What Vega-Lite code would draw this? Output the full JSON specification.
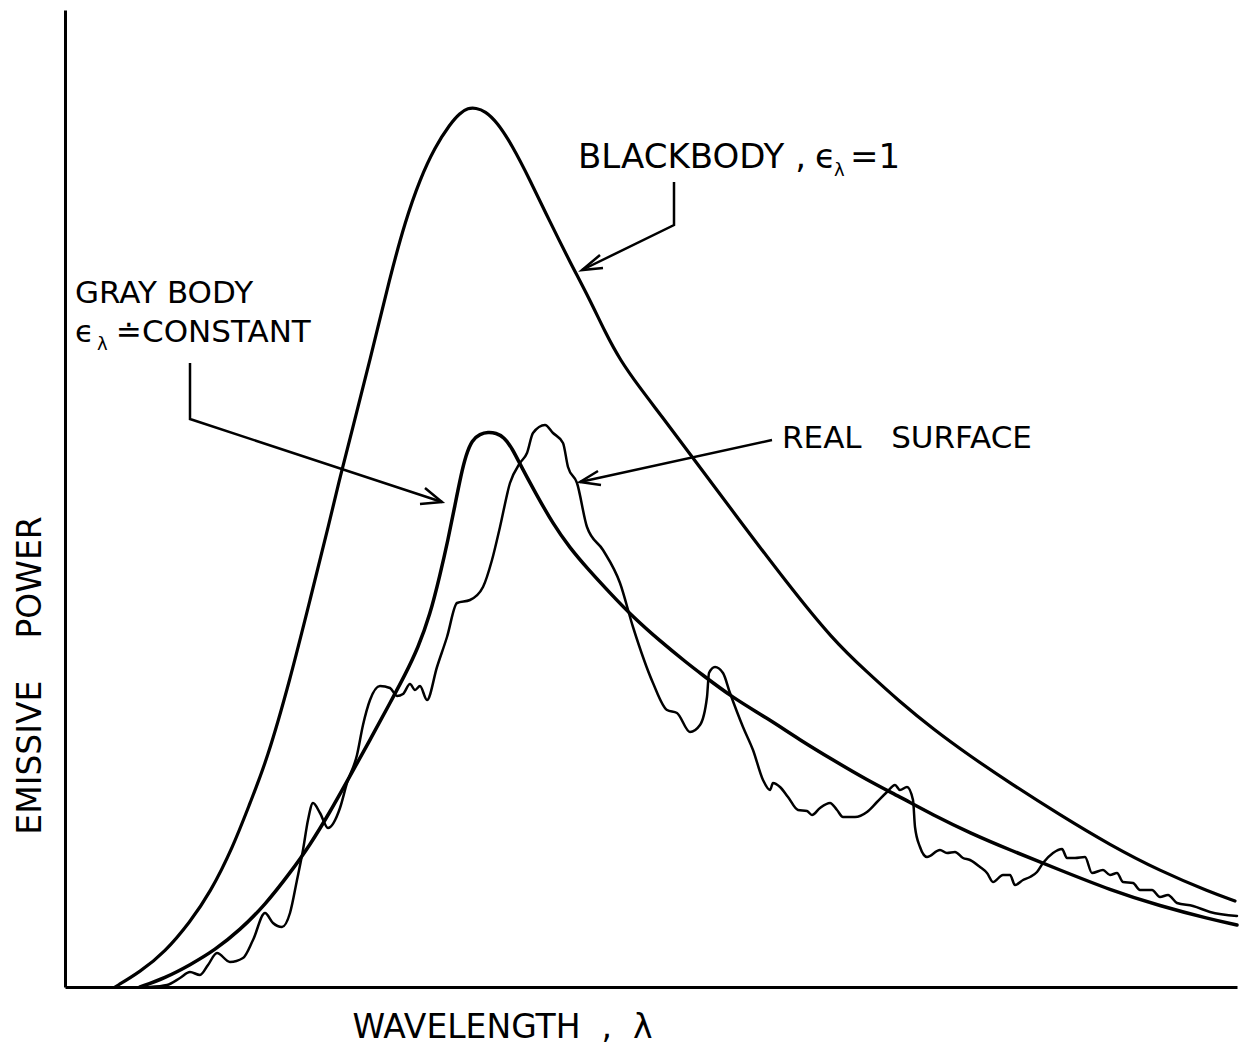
{
  "$schema": "https://vega.github.io/schema/vega-lite/v6.json",
  "width": 1172,
  "height": 977,
  "autosize": "none",
  "padding": {"left": 65, "top": 10, "right": 10, "bottom": 63},
  "background": "white",
  "config": {"view": {"stroke": null}, "font": "DejaVu Sans"},
  "datasets": {
    "smooth": [
      {"series": "Blackbody", "x": 115, "power": 0},
      {"series": "Blackbody", "x": 140, "power": 15},
      {"series": "Blackbody", "x": 165, "power": 35},
      {"series": "Blackbody", "x": 190, "power": 65},
      {"series": "Blackbody", "x": 210, "power": 94},
      {"series": "Blackbody", "x": 233, "power": 140},
      {"series": "Blackbody", "x": 250, "power": 184},
      {"series": "Blackbody", "x": 267, "power": 227},
      {"series": "Blackbody", "x": 290, "power": 307},
      {"series": "Blackbody", "x": 310, "power": 387},
      {"series": "Blackbody", "x": 330, "power": 467},
      {"series": "Blackbody", "x": 340, "power": 510},
      {"series": "Blackbody", "x": 353, "power": 560},
      {"series": "Blackbody", "x": 370, "power": 627},
      {"series": "Blackbody", "x": 390, "power": 710},
      {"series": "Blackbody", "x": 405, "power": 765},
      {"series": "Blackbody", "x": 420, "power": 808},
      {"series": "Blackbody", "x": 435, "power": 840},
      {"series": "Blackbody", "x": 450, "power": 863},
      {"series": "Blackbody", "x": 460, "power": 874},
      {"series": "Blackbody", "x": 468, "power": 879},
      {"series": "Blackbody", "x": 476, "power": 879},
      {"series": "Blackbody", "x": 485, "power": 876},
      {"series": "Blackbody", "x": 497, "power": 865},
      {"series": "Blackbody", "x": 512, "power": 842},
      {"series": "Blackbody", "x": 530, "power": 807},
      {"series": "Blackbody", "x": 550, "power": 765},
      {"series": "Blackbody", "x": 570, "power": 725},
      {"series": "Blackbody", "x": 590, "power": 687},
      {"series": "Blackbody", "x": 605, "power": 655},
      {"series": "Blackbody", "x": 620, "power": 627},
      {"series": "Blackbody", "x": 640, "power": 599},
      {"series": "Blackbody", "x": 660, "power": 573},
      {"series": "Blackbody", "x": 693, "power": 529},
      {"series": "Blackbody", "x": 737, "power": 470},
      {"series": "Blackbody", "x": 787, "power": 404},
      {"series": "Blackbody", "x": 833, "power": 347},
      {"series": "Blackbody", "x": 867, "power": 315},
      {"series": "Blackbody", "x": 900, "power": 285},
      {"series": "Blackbody", "x": 933, "power": 258},
      {"series": "Blackbody", "x": 970, "power": 231},
      {"series": "Blackbody", "x": 1010, "power": 204},
      {"series": "Blackbody", "x": 1060, "power": 172},
      {"series": "Blackbody", "x": 1110, "power": 142},
      {"series": "Blackbody", "x": 1160, "power": 116},
      {"series": "Blackbody", "x": 1210, "power": 95},
      {"series": "Blackbody", "x": 1235, "power": 86},
      {"series": "Gray body", "x": 140, "power": 0},
      {"series": "Gray body", "x": 165, "power": 9},
      {"series": "Gray body", "x": 190, "power": 22},
      {"series": "Gray body", "x": 215, "power": 37},
      {"series": "Gray body", "x": 240, "power": 57},
      {"series": "Gray body", "x": 265, "power": 82},
      {"series": "Gray body", "x": 290, "power": 114},
      {"series": "Gray body", "x": 310, "power": 142},
      {"series": "Gray body", "x": 330, "power": 175},
      {"series": "Gray body", "x": 350, "power": 211},
      {"series": "Gray body", "x": 370, "power": 247},
      {"series": "Gray body", "x": 390, "power": 284},
      {"series": "Gray body", "x": 405, "power": 312},
      {"series": "Gray body", "x": 418, "power": 339},
      {"series": "Gray body", "x": 430, "power": 372},
      {"series": "Gray body", "x": 440, "power": 412},
      {"series": "Gray body", "x": 448, "power": 447},
      {"series": "Gray body", "x": 455, "power": 482},
      {"series": "Gray body", "x": 461, "power": 512},
      {"series": "Gray body", "x": 466, "power": 532},
      {"series": "Gray body", "x": 472, "power": 547},
      {"series": "Gray body", "x": 480, "power": 553},
      {"series": "Gray body", "x": 488, "power": 555},
      {"series": "Gray body", "x": 496, "power": 554},
      {"series": "Gray body", "x": 504, "power": 550},
      {"series": "Gray body", "x": 512, "power": 539},
      {"series": "Gray body", "x": 522, "power": 519},
      {"series": "Gray body", "x": 535, "power": 495},
      {"series": "Gray body", "x": 553, "power": 463},
      {"series": "Gray body", "x": 570, "power": 439},
      {"series": "Gray body", "x": 587, "power": 419},
      {"series": "Gray body", "x": 610, "power": 394},
      {"series": "Gray body", "x": 633, "power": 370},
      {"series": "Gray body", "x": 660, "power": 346},
      {"series": "Gray body", "x": 687, "power": 324},
      {"series": "Gray body", "x": 700, "power": 314},
      {"series": "Gray body", "x": 733, "power": 289},
      {"series": "Gray body", "x": 767, "power": 269},
      {"series": "Gray body", "x": 800, "power": 247},
      {"series": "Gray body", "x": 833, "power": 227},
      {"series": "Gray body", "x": 867, "power": 207},
      {"series": "Gray body", "x": 900, "power": 190},
      {"series": "Gray body", "x": 933, "power": 172},
      {"series": "Gray body", "x": 970, "power": 154},
      {"series": "Gray body", "x": 1010, "power": 137},
      {"series": "Gray body", "x": 1060, "power": 117},
      {"series": "Gray body", "x": 1110, "power": 97},
      {"series": "Gray body", "x": 1160, "power": 81},
      {"series": "Gray body", "x": 1210, "power": 68},
      {"series": "Gray body", "x": 1237, "power": 62}
    ],
    "real": [
      {"series": "Real surface", "x": 150, "power": 0},
      {"series": "Real surface", "x": 167, "power": 2},
      {"series": "Real surface", "x": 180, "power": 9},
      {"series": "Real surface", "x": 190, "power": 15},
      {"series": "Real surface", "x": 200, "power": 12},
      {"series": "Real surface", "x": 208, "power": 22},
      {"series": "Real surface", "x": 217, "power": 34},
      {"series": "Real surface", "x": 230, "power": 25},
      {"series": "Real surface", "x": 243, "power": 29},
      {"series": "Real surface", "x": 253, "power": 47},
      {"series": "Real surface", "x": 265, "power": 74},
      {"series": "Real surface", "x": 273, "power": 64},
      {"series": "Real surface", "x": 282, "power": 60},
      {"series": "Real surface", "x": 290, "power": 74},
      {"series": "Real surface", "x": 297, "power": 107},
      {"series": "Real surface", "x": 303, "power": 137},
      {"series": "Real surface", "x": 308, "power": 167},
      {"series": "Real surface", "x": 313, "power": 184},
      {"series": "Real surface", "x": 320, "power": 174},
      {"series": "Real surface", "x": 328, "power": 159},
      {"series": "Real surface", "x": 340, "power": 179},
      {"series": "Real surface", "x": 347, "power": 204},
      {"series": "Real surface", "x": 357, "power": 232},
      {"series": "Real surface", "x": 363, "power": 262},
      {"series": "Real surface", "x": 370, "power": 287},
      {"series": "Real surface", "x": 380, "power": 301},
      {"series": "Real surface", "x": 390, "power": 299},
      {"series": "Real surface", "x": 397, "power": 291},
      {"series": "Real surface", "x": 403, "power": 293},
      {"series": "Real surface", "x": 410, "power": 303},
      {"series": "Real surface", "x": 415, "power": 297},
      {"series": "Real surface", "x": 420, "power": 301},
      {"series": "Real surface", "x": 427, "power": 287},
      {"series": "Real surface", "x": 437, "power": 320},
      {"series": "Real surface", "x": 447, "power": 350},
      {"series": "Real surface", "x": 457, "power": 384},
      {"series": "Real surface", "x": 470, "power": 387},
      {"series": "Real surface", "x": 483, "power": 400},
      {"series": "Real surface", "x": 492, "power": 427},
      {"series": "Real surface", "x": 500, "power": 460},
      {"series": "Real surface", "x": 510, "power": 504},
      {"series": "Real surface", "x": 520, "power": 524},
      {"series": "Real surface", "x": 527, "power": 534},
      {"series": "Real surface", "x": 533, "power": 554},
      {"series": "Real surface", "x": 545, "power": 562},
      {"series": "Real surface", "x": 553, "power": 554},
      {"series": "Real surface", "x": 563, "power": 544},
      {"series": "Real surface", "x": 568, "power": 520},
      {"series": "Real surface", "x": 577, "power": 504},
      {"series": "Real surface", "x": 587, "power": 460},
      {"series": "Real surface", "x": 603, "power": 437},
      {"series": "Real surface", "x": 620, "power": 404},
      {"series": "Real surface", "x": 633, "power": 360},
      {"series": "Real surface", "x": 653, "power": 304},
      {"series": "Real surface", "x": 667, "power": 277},
      {"series": "Real surface", "x": 677, "power": 274},
      {"series": "Real surface", "x": 690, "power": 255},
      {"series": "Real surface", "x": 700, "power": 262},
      {"series": "Real surface", "x": 707, "power": 290},
      {"series": "Real surface", "x": 709, "power": 314},
      {"series": "Real surface", "x": 715, "power": 320},
      {"series": "Real surface", "x": 723, "power": 314},
      {"series": "Real surface", "x": 730, "power": 294},
      {"series": "Real surface", "x": 743, "power": 260},
      {"series": "Real surface", "x": 753, "power": 237},
      {"series": "Real surface", "x": 763, "power": 207},
      {"series": "Real surface", "x": 770, "power": 197},
      {"series": "Real surface", "x": 773, "power": 204},
      {"series": "Real surface", "x": 780, "power": 200},
      {"series": "Real surface", "x": 788, "power": 190},
      {"series": "Real surface", "x": 798, "power": 177},
      {"series": "Real surface", "x": 807, "power": 176},
      {"series": "Real surface", "x": 812, "power": 172},
      {"series": "Real surface", "x": 820, "power": 179},
      {"series": "Real surface", "x": 830, "power": 184},
      {"series": "Real surface", "x": 837, "power": 177},
      {"series": "Real surface", "x": 843, "power": 170},
      {"series": "Real surface", "x": 855, "power": 170},
      {"series": "Real surface", "x": 867, "power": 175},
      {"series": "Real surface", "x": 877, "power": 185},
      {"series": "Real surface", "x": 887, "power": 195},
      {"series": "Real surface", "x": 895, "power": 202},
      {"series": "Real surface", "x": 900, "power": 197},
      {"series": "Real surface", "x": 907, "power": 200},
      {"series": "Real surface", "x": 913, "power": 187},
      {"series": "Real surface", "x": 915, "power": 160},
      {"series": "Real surface", "x": 920, "power": 140},
      {"series": "Real surface", "x": 927, "power": 130},
      {"series": "Real surface", "x": 940, "power": 137},
      {"series": "Real surface", "x": 947, "power": 134},
      {"series": "Real surface", "x": 955, "power": 135},
      {"series": "Real surface", "x": 963, "power": 129},
      {"series": "Real surface", "x": 970, "power": 127},
      {"series": "Real surface", "x": 980, "power": 120},
      {"series": "Real surface", "x": 987, "power": 114},
      {"series": "Real surface", "x": 993, "power": 105},
      {"series": "Real surface", "x": 1003, "power": 112},
      {"series": "Real surface", "x": 1010, "power": 112},
      {"series": "Real surface", "x": 1015, "power": 102},
      {"series": "Real surface", "x": 1023, "power": 107},
      {"series": "Real surface", "x": 1030, "power": 110},
      {"series": "Real surface", "x": 1037, "power": 115},
      {"series": "Real surface", "x": 1043, "power": 124},
      {"series": "Real surface", "x": 1053, "power": 134},
      {"series": "Real surface", "x": 1062, "power": 138},
      {"series": "Real surface", "x": 1067, "power": 129},
      {"series": "Real surface", "x": 1075, "power": 129},
      {"series": "Real surface", "x": 1085, "power": 130},
      {"series": "Real surface", "x": 1092, "power": 114},
      {"series": "Real surface", "x": 1103, "power": 117},
      {"series": "Real surface", "x": 1110, "power": 112},
      {"series": "Real surface", "x": 1117, "power": 114},
      {"series": "Real surface", "x": 1123, "power": 105},
      {"series": "Real surface", "x": 1133, "power": 104},
      {"series": "Real surface", "x": 1140, "power": 97},
      {"series": "Real surface", "x": 1152, "power": 97},
      {"series": "Real surface", "x": 1160, "power": 90},
      {"series": "Real surface", "x": 1168, "power": 92},
      {"series": "Real surface", "x": 1177, "power": 84},
      {"series": "Real surface", "x": 1193, "power": 81},
      {"series": "Real surface", "x": 1210, "power": 75},
      {"series": "Real surface", "x": 1237, "power": 71}
    ],
    "arrows": [
      {"grp": "gray", "k": 1, "x": 190, "power": 624},
      {"grp": "gray", "k": 2, "x": 190, "power": 568},
      {"grp": "gray", "k": 3, "x": 442, "power": 485},
      {"grp": "grayhead", "k": 1, "x": 425, "power": 499},
      {"grp": "grayhead", "k": 2, "x": 442, "power": 485},
      {"grp": "grayhead", "k": 3, "x": 420, "power": 483},
      {"grp": "black", "k": 1, "x": 674, "power": 805},
      {"grp": "black", "k": 2, "x": 674, "power": 762},
      {"grp": "black", "k": 3, "x": 582, "power": 717},
      {"grp": "blackhead", "k": 1, "x": 600, "power": 732},
      {"grp": "blackhead", "k": 2, "x": 582, "power": 717},
      {"grp": "blackhead", "k": 3, "x": 603, "power": 719},
      {"grp": "real", "k": 1, "x": 772, "power": 547},
      {"grp": "real", "k": 2, "x": 580, "power": 505},
      {"grp": "realhead", "k": 1, "x": 598, "power": 516},
      {"grp": "realhead", "k": 2, "x": 580, "power": 505},
      {"grp": "realhead", "k": 3, "x": 601, "power": 502}
    ],
    "labels": [
      {"x": 75, "power": 684, "label": "GRAY BODY"},
      {"x": 75, "power": 645, "label": "ϵ"},
      {"x": 116, "power": 645, "label": "≐"},
      {"x": 142, "power": 645, "label": "CONSTANT"},
      {"x": 782, "power": 539, "label": "REAL\u00a0\u00a0\u00a0SURFACE"}
    ],
    "biglabels": [
      {"x": 578, "power": 819, "label": "BLACKBODY\u00a0,"},
      {"x": 815, "power": 819, "label": "ϵ"},
      {"x": 850, "power": 819, "label": "=1"}
    ],
    "subs": [
      {"x": 97, "power": 637, "label": "λ"},
      {"x": 834, "power": 811, "label": "λ"}
    ]
  },
  "layer": [
    {
      "data": {"name": "smooth"},
      "mark": {"type": "line", "color": "black", "interpolate": "basis", "strokeCap": "round", "strokeJoin": "round"},
      "encoding": {
        "x": {"field": "x", "type": "quantitative",
          "scale": {"domain": [65, 1237], "nice": false, "zero": false},
          "axis": {"title": "WAVELENGTH\u00a0\u00a0,\u00a0\u00a0λ", "ticks": false, "labels": false, "grid": false,
            "domainColor": "black", "domainWidth": 3,
            "titleFont": "DejaVu Sans", "titleFontSize": 33, "titleFontWeight": "normal", "titleColor": "black",
            "titleX": 437, "titleY": 40, "titleBaseline": "middle", "titleAlign": "center"}},
        "y": {"field": "power", "type": "quantitative",
          "scale": {"domain": [0, 977], "nice": false, "zero": false},
          "axis": {"title": "EMISSIVE\u00a0\u00a0\u00a0\u00a0POWER", "ticks": false, "labels": false, "grid": false,
            "domainColor": "black", "domainWidth": 3,
            "titleFont": "DejaVu Sans", "titleFontSize": 33, "titleFontWeight": "normal", "titleColor": "black",
            "titleX": -35, "titleY": 665, "titleAngle": -90, "titleBaseline": "middle", "titleAlign": "center"}},
        "detail": {"field": "series"},
        "strokeWidth": {"field": "series", "type": "nominal",
          "scale": {"domain": ["Blackbody", "Gray body"], "range": [3.2, 3.5]},
          "legend": null}
      }
    },
    {
      "data": {"name": "real"},
      "mark": {"type": "line", "color": "black", "interpolate": "monotone", "strokeWidth": 2.5, "strokeCap": "round", "strokeJoin": "round"},
      "encoding": {
        "x": {"field": "x", "type": "quantitative"},
        "y": {"field": "power", "type": "quantitative"}
      }
    },
    {
      "data": {"name": "arrows"},
      "mark": {"type": "line", "color": "black", "strokeWidth": 2.5, "strokeJoin": "miter"},
      "encoding": {
        "x": {"field": "x", "type": "quantitative"},
        "y": {"field": "power", "type": "quantitative"},
        "detail": {"field": "grp"},
        "order": {"field": "k", "type": "quantitative"}
      }
    },
    {
      "data": {"name": "labels"},
      "mark": {"type": "text", "align": "left", "baseline": "alphabetic", "fontSize": 31, "font": "DejaVu Sans", "color": "black"},
      "encoding": {
        "x": {"field": "x", "type": "quantitative"},
        "y": {"field": "power", "type": "quantitative"},
        "text": {"field": "label"}
      }
    },
    {
      "data": {"name": "biglabels"},
      "mark": {"type": "text", "align": "left", "baseline": "alphabetic", "fontSize": 34, "font": "DejaVu Sans", "color": "black"},
      "encoding": {
        "x": {"field": "x", "type": "quantitative"},
        "y": {"field": "power", "type": "quantitative"},
        "text": {"field": "label"}
      }
    },
    {
      "data": {"name": "subs"},
      "mark": {"type": "text", "align": "left", "baseline": "alphabetic", "fontSize": 18, "font": "DejaVu Sans", "color": "black"},
      "encoding": {
        "x": {"field": "x", "type": "quantitative"},
        "y": {"field": "power", "type": "quantitative"},
        "text": {"field": "label"}
      }
    }
  ]
}
